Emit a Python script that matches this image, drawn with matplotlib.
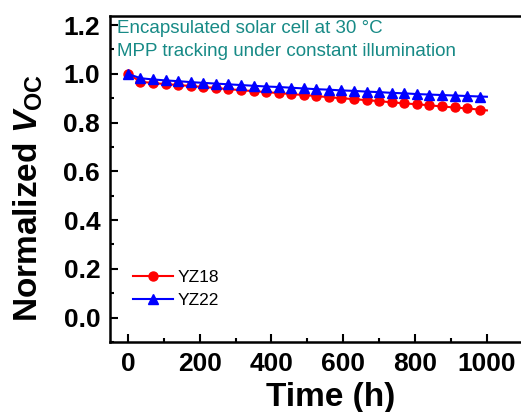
import matplotlib
matplotlib.use("Agg")
import matplotlib.pyplot as plt
from matplotlib.ticker import MultipleLocator, FormatStrFormatter

plt.rcParams['font.family'] = ['Liberation Sans', 'DejaVu Sans']
plt.rcParams['mathtext.fontset'] = 'custom'
plt.rcParams['mathtext.rm'] = 'Liberation Sans:bold'
plt.rcParams['mathtext.it'] = 'Liberation Sans:bold:italic'
plt.rcParams['mathtext.bf'] = 'Liberation Sans:bold'

time_h = [0, 35, 70, 105, 140, 175, 210, 245, 280, 315, 350, 385, 420, 455, 490,
          525, 560, 595, 630, 665, 700, 735, 770, 805, 840, 875, 910, 945, 980, 1000]
yz18 = [1.000, 0.968, 0.962, 0.958, 0.954, 0.950, 0.946, 0.942, 0.937, 0.933,
        0.929, 0.925, 0.921, 0.917, 0.913, 0.909, 0.904, 0.900, 0.896, 0.892,
        0.888, 0.883, 0.879, 0.875, 0.871, 0.866, 0.862, 0.858, 0.853, 0.850]
yz22 = [1.000, 0.982, 0.977, 0.973, 0.970, 0.966, 0.963, 0.960, 0.957, 0.954,
        0.951, 0.948, 0.946, 0.943, 0.940, 0.937, 0.935, 0.932, 0.930, 0.927,
        0.925, 0.922, 0.920, 0.917, 0.915, 0.913, 0.911, 0.909, 0.907, 0.906]
labels = ['YZ18', 'YZ22']
annotations = ['Encapsulated solar cell at 30 °C',
               'MPP tracking under constant illumination']

fig = plt.figure(figsize=(5.21, 4.12), dpi=100)
ax = fig.add_axes([0.211, 0.170, 0.789, 0.791])

ax.plot(time_h, yz18, color='#ff0000', lw=1.5, marker='o', ms=6.5,
        markevery=slice(0, len(time_h) - 1), label=labels[0])
ax.plot(time_h, yz22, color='#0000ff', lw=1.5, marker='^', ms=7,
        markevery=slice(0, len(time_h) - 1), label=labels[1])

ax.set_xlim(-50, 1095)
ax.set_ylim(-0.1, 1.237)
ax.xaxis.set_major_locator(MultipleLocator(200))
ax.xaxis.set_minor_locator(MultipleLocator(100))
ax.yaxis.set_major_locator(MultipleLocator(0.2))
ax.yaxis.set_minor_locator(MultipleLocator(0.1))
ax.yaxis.set_major_formatter(FormatStrFormatter('%.1f'))
ax.tick_params(which='both', direction='in', width=1.5, top=False, right=False)
ax.tick_params(which='major', length=6, labelsize=19, pad=7)
ax.tick_params(which='minor', length=3)
for lab in ax.get_xticklabels() + ax.get_yticklabels():
    lab.set_fontweight('bold')
for s in ax.spines.values():
    s.set_linewidth(1.8)
ax.spines['right'].set_visible(False)

ax.set_xlabel('Time (h)', fontsize=24, fontweight='bold')
ax.xaxis.set_label_coords(0.538, -0.122)
ax.set_ylabel(r'Normalized $\mathit{V}_{\mathrm{OC}}$', fontsize=24,
              fontweight='bold')
ax.yaxis.set_label_coords(-0.158, 0.44)

ax.text(0.017, 0.989, annotations[0], transform=ax.transAxes, color='#178a86',
        fontsize=13.5, va='top', ha='left')
ax.text(0.017, 0.916, annotations[1], transform=ax.transAxes, color='#178a86',
        fontsize=13.5, va='top', ha='left')

ax.legend(loc='upper left', bbox_to_anchor=(0.056, 0.22), frameon=False,
          fontsize=12.5, handlelength=2.3, handletextpad=0.3, labelspacing=0.45,
          borderpad=0, borderaxespad=0)

fig.savefig('out.png', dpi=100)
